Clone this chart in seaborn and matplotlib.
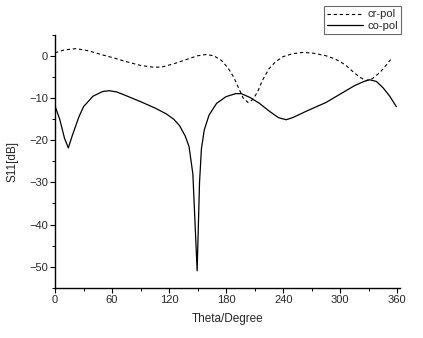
import matplotlib
matplotlib.use("Agg")
import matplotlib.pyplot as plt
import seaborn as sns
import pandas as pd
from matplotlib.ticker import MultipleLocator

# co-pol (solid)
co_theta = [0, 5, 10, 14, 18, 25, 30, 40, 50, 57, 65, 75, 90, 105, 117, 125, 131, 137,
            141, 145, 149.5, 152, 154, 157, 162, 170, 180, 190, 196, 205, 215, 225, 235,
            243, 250, 265, 285, 300, 315, 325, 331, 338, 345, 352, 359]
co_s11 = [-11.8, -15, -19.5, -21.8, -19, -14.5, -12, -9.5, -8.4, -8.2, -8.5, -9.4, -10.8,
          -12.3, -13.7, -15, -16.5, -19, -21.5, -28, -51, -30, -22, -17.5, -14, -11.2, -9.6,
          -8.9, -8.9, -9.8, -11.2, -13, -14.6, -15.1, -14.6, -13, -11, -9, -7, -6, -5.6,
          -6, -7.5, -9.5, -12]

# cr-pol (dashed)
cr_theta = [0, 10, 22, 35, 50, 60, 75, 90, 103, 112, 125, 138, 150, 159, 167, 175, 182,
            188, 193, 198, 203, 208, 213, 218, 225, 232, 240, 250, 261, 272, 285, 295,
            305, 313, 320, 327, 334, 342, 348, 353]
cr_s11 = [0.8, 1.5, 1.8, 1.3, 0.3, -0.3, -1.3, -2.2, -2.6, -2.6, -1.8, -0.8, 0.1, 0.4,
          0.1, -1, -2.8, -5, -7.5, -10, -11, -10.3, -8.5, -5.8, -3, -1.3, -0.1, 0.6, 0.9,
          0.7, 0.1, -0.7, -2, -3.6, -4.9, -5.8, -5.3, -3.8, -2.2, -0.8]

sns.set_style("white")
plt.rcParams['font.family'] = ['Liberation Sans', 'DejaVu Sans']

fig = plt.figure(figsize=(4.23, 3.38), dpi=100)
ax = fig.add_axes([0.130, 0.149, 0.816, 0.747])

cr = pd.DataFrame({"theta": cr_theta, "s11": cr_s11})
co = pd.DataFrame({"theta": co_theta, "s11": co_s11})
sns.lineplot(data=cr, x="theta", y="s11", ax=ax, color="black", lw=0.8,
             linestyle=(0, (3, 2.5)), label="cr-pol", legend=False)
sns.lineplot(data=co, x="theta", y="s11", ax=ax, color="black", lw=0.9,
             label="co-pol", legend=False)

ax.set_xlim(0, 363)
ax.set_ylim(-55, 5)
ax.set_xticks([0, 60, 120, 180, 240, 300, 360])
ax.set_yticks([-50, -40, -30, -20, -10, 0])
ax.xaxis.set_minor_locator(MultipleLocator(30))
ax.yaxis.set_minor_locator(MultipleLocator(5))
for s in ["top", "right"]:
    ax.spines[s].set_visible(False)
for s in ["left", "bottom"]:
    ax.spines[s].set_color("black")
    ax.spines[s].set_linewidth(1.0)
ax.tick_params(which="major", direction="out", length=3.5, width=0.8, labelsize=8,
               left=True, bottom=True, color="black", pad=1.5)
ax.tick_params(which="minor", direction="out", length=2, width=0.7,
               left=True, bottom=True, color="black")
ax.set_xlabel("Theta/Degree", fontsize=8.5, labelpad=6)
ax.set_ylabel("S11[dB]", fontsize=8.5, labelpad=8)

handles, labels = ax.get_legend_handles_labels()
leg = fig.legend(handles, labels, loc="upper right", bbox_to_anchor=(0.948, 0.982),
                 borderaxespad=0, fontsize=8, frameon=True, fancybox=False,
                 handlelength=3.2, borderpad=0.3, labelspacing=0.15, handletextpad=0.4)
leg.get_frame().set_edgecolor("#444444")
leg.get_frame().set_linewidth(0.8)

fig.savefig("out.png", dpi=100)
